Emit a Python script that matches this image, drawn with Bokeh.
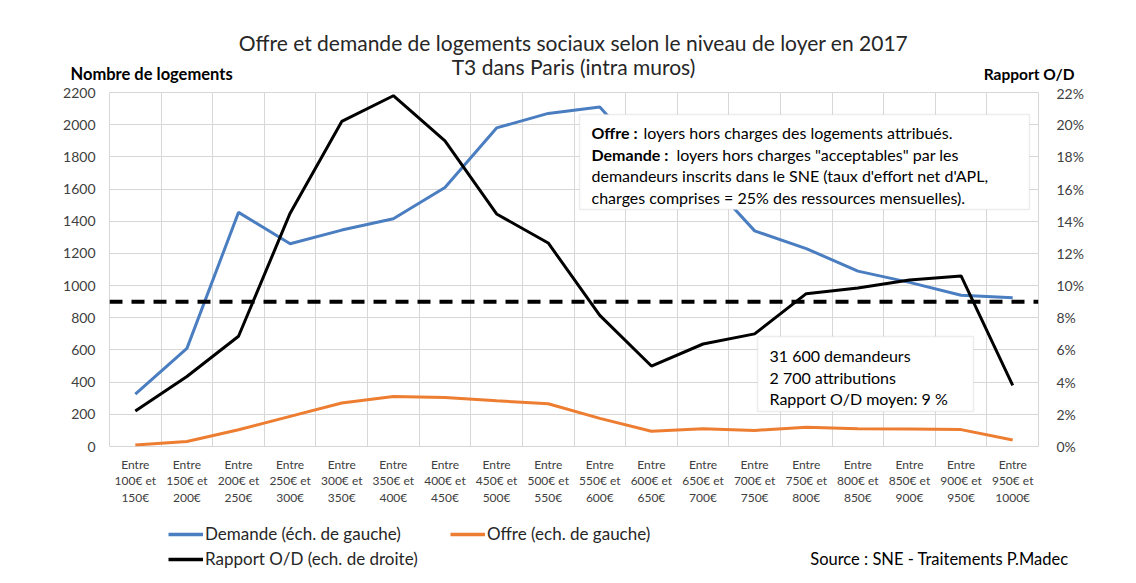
from bokeh.plotting import figure
from bokeh.models import (Range1d, LinearAxis, FixedTicker, PrintfTickFormatter, Span,
                          Label, BoxAnnotation, Legend, LegendItem)
from bokeh.core.properties import value
from bokeh.embed import file_html
from bokeh.resources import INLINE

# ---------------- data ----------------
tranches = ["Entre\n100€ et\n150€", "Entre\n150€ et\n200€", "Entre\n200€ et\n250€",
            "Entre\n250€ et\n300€", "Entre\n300€ et\n350€", "Entre\n350€ et\n400€",
            "Entre\n400€ et\n450€", "Entre\n450€ et\n500€", "Entre\n500€ et\n550€",
            "Entre\n550€ et\n600€", "Entre\n600€ et\n650€", "Entre\n650€ et\n700€",
            "Entre\n700€ et\n750€", "Entre\n750€ et\n800€", "Entre\n800€ et\n850€",
            "Entre\n850€ et\n900€", "Entre\n900€ et\n950€", "Entre\n950€ et\n1000€"]
demande = [325, 610, 1455, 1260, 1345, 1415, 1610, 1980, 2070, 2110,
           1750, 1690, 1340, 1230, 1090, 1020, 940, 925]
offre = [10, 31, 104, 187, 270, 311, 305, 284, 266, 175,
         95, 110, 100, 120, 110, 108, 105, 40]
rapport = [2.2, 4.35, 6.85, 14.5, 20.2, 21.8, 19.0, 14.45, 12.65, 8.15,
           5.0, 6.37, 7.0, 9.5, 9.85, 10.35, 10.6, 3.8]
rapport_moyen = 9
left_ticks = [0, 200, 400, 600, 800, 1000, 1200, 1400, 1600, 1800, 2000, 2200]
right_ticks = [0, 2, 4, 6, 8, 10, 12, 14, 16, 18, 20, 22]

xs = list(range(len(tranches)))

FONT = "Lato"
DARK = "#262626"
BLUE = "#4A7EC1"
ORANGE = "#ED7D31"
GRID = "#d9d6d6"

W = 1120
HH, HM, HF = 84, 431, 60          # header, main, footer heights
FL, FR, FT, FB = 109, 1038, 8, 362  # main frame edges (main figure pixels)

# ---------------- header (titles) ----------------
hdr = figure(width=W, height=HH, output_backend="svg", toolbar_location=None,
             x_range=Range1d(0, W), y_range=Range1d(HH, 0),
             x_axis_type=None, y_axis_type=None, min_border=0)
hdr.outline_line_color = None
hdr.text(x=[573, 573], y=[42, 66],
         text=["Offre et demande de logements sociaux selon le niveau de loyer en 2017",
               "T3 dans Paris (intra muros)"],
         text_align="center", text_baseline="middle", text_font=value(FONT),
         text_font_size="21px", text_color=DARK)
hdr.text(x=[70], y=[73], text=["Nombre de logements"], text_align="left",
         text_baseline="middle", text_font=value(FONT), text_font_size="16.5px",
         text_font_style="bold", text_color="black")
hdr.text(x=[1074], y=[73], text=["Rapport O/D"], text_align="right",
         text_baseline="middle", text_font=value(FONT), text_font_size="15.5px",
         text_font_style="bold", text_color="black")

# ---------------- main chart ----------------
p = figure(width=W, height=HM, output_backend="svg", toolbar_location=None,
           x_range=Range1d(-0.5, 17.5), y_range=Range1d(0, 2200),
           min_border_left=FL, min_border_right=W - FR,
           min_border_top=FT, min_border_bottom=HM - FB)
p.background_fill_color = "white"
p.border_fill_color = "white"
p.outline_line_color = GRID


def X(px):  # page pixel -> data x
    return -0.5 + (px - FL) / (FR - FL) * 18


def Y(py):  # page pixel -> data y
    return (FB - (py - HH)) / (FB - FT) * 2200


p.xgrid.ticker = FixedTicker(ticks=[i - 0.5 for i in range(19)])
p.ygrid.ticker = FixedTicker(ticks=left_ticks)
for g in (p.xgrid, p.ygrid):
    g.grid_line_color = GRID
    g.grid_line_width = 1

xa = p.xaxis[0]
xa.ticker = FixedTicker(ticks=xs)
xa.major_label_overrides = {i: t for i, t in zip(xs, tranches)}
ya = p.yaxis[0]
ya.ticker = FixedTicker(ticks=left_ticks)

p.extra_y_ranges = {"ratio": Range1d(0, 22)}
ra = LinearAxis(y_range_name="ratio", ticker=FixedTicker(ticks=right_ticks),
                formatter=PrintfTickFormatter(format="%d%%"))
p.add_layout(ra, "right")

for ax in (xa, ya, ra):
    ax.axis_line_color = None
    ax.major_tick_line_color = None
    ax.minor_tick_line_color = None
    ax.major_label_text_font = FONT
    ax.major_label_text_color = "#404040"
xa.major_label_text_font_size = "12px"
xa.major_label_text_line_height = 1.13
xa.major_label_standoff = 4
ya.major_label_text_font_size = "14px"
ya.major_label_standoff = 8
ra.major_label_text_font_size = "14px"
ra.major_label_standoff = 12

r_dem = p.line(xs, demande, line_color=BLUE, line_width=3)
r_off = p.line(xs, offre, line_color=ORANGE, line_width=3)
r_rap = p.line(xs, rapport, line_color="black", line_width=3, y_range_name="ratio")

p.add_layout(Span(location=rapport_moyen, dimension="width", y_range_name="ratio",
                  line_color="black", line_width=4, line_dash="13 9"))

# annotation box 1
p.add_layout(BoxAnnotation(left=X(579), right=X(1029), top=Y(114), bottom=Y(209),
                           fill_color="white", fill_alpha=1, line_color="#c4c4c4",
                           line_width=1.5))
box1 = [
    [("Offre :", "bold", 591), ("loyers hors charges des logements attribués.", "normal", 643)],
    [("Demande :", "bold", 591), ("loyers hors charges \"acceptables\" par les", "normal", 676)],
    [("demandeurs inscrits dans le SNE (taux d'effort net d'APL,", "normal", 591)],
    [("charges comprises = 25% des ressources mensuelles).", "normal", 591)],
]
for k, line in enumerate(box1):
    for txt, style, x0 in line:
        p.add_layout(Label(x=X(x0), y=Y(132 + 21.5 * k), text=txt, text_align="left",
                           text_baseline="middle", text_font=FONT, text_font_size="16px",
                           text_font_style=style, text_color="black"))

# annotation box 2
p.add_layout(BoxAnnotation(left=X(757), right=X(973), top=Y(336), bottom=Y(411),
                           fill_color="white", fill_alpha=1, line_color="#c4c4c4",
                           line_width=1.5))
box2 = ["31 600 demandeurs", "2 700 attributions", "Rapport O/D moyen: 9 %"]
for k, txt in enumerate(box2):
    p.add_layout(Label(x=X(769), y=Y(355 + 21.5 * k), text=txt, text_align="left",
                       text_baseline="middle", text_font=FONT, text_font_size="16px",
                       text_color="black"))

# ---------------- footer (legend + source) ----------------
ftr = figure(width=W, height=HF, output_backend="svg", toolbar_location=None,
             x_range=Range1d(0, W), y_range=Range1d(HF, 0),
             x_axis_type=None, y_axis_type=None, min_border=0)
ftr.outline_line_color = None
off = [-50, -40]  # swatch-only renderers, kept outside the visible range
f_dem = ftr.line(off, off, line_color=BLUE, line_width=3.5)
f_off = ftr.line(off, off, line_color=ORANGE, line_width=3.5)
f_rap = ftr.line(off, off, line_color="black", line_width=3.5)


def make_legend(label, rend, loc):
    lg = Legend(items=[LegendItem(label=label, renderers=[rend])], location=loc,
                border_line_color=None, background_fill_alpha=0, padding=0, margin=0,
                glyph_width=35, glyph_height=16, label_height=16, label_standoff=2,
                label_text_font=FONT, label_text_font_size="17px", label_text_color=DARK)
    ftr.add_layout(lg)


make_legend("Demande (éch. de gauche)", f_dem, (168, 31))
make_legend("Offre (ech. de gauche)", f_off, (450, 31))
make_legend("Rapport O/D (ech. de droite)", f_rap, (168, 6))

ftr.text(x=[1068], y=[43], text=["Source : SNE - Traitements P.Madec"], text_align="right",
         text_baseline="middle", text_font=value(FONT), text_font_size="16.5px",
         text_color="black")

open("out.html", "w").write(file_html([hdr, p, ftr], INLINE))
